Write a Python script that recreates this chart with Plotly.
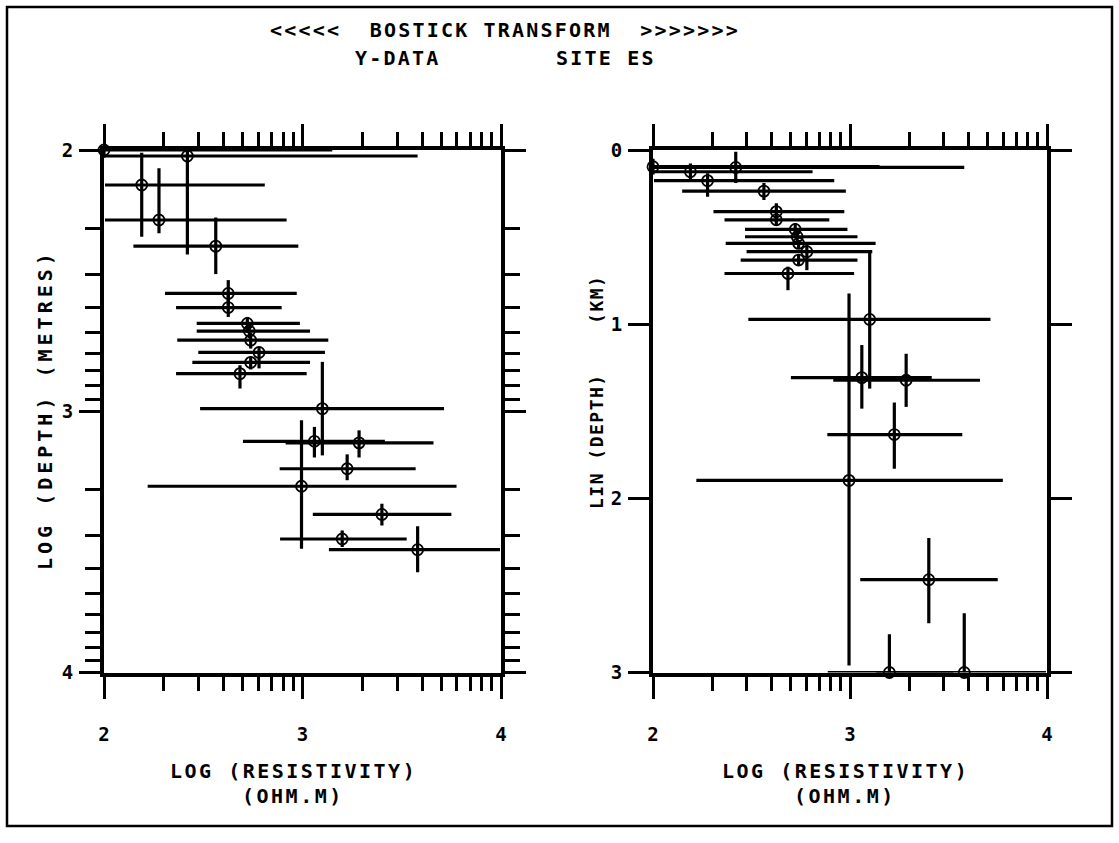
import plotly.graph_objects as go
import numpy as np

# ---------------- data ----------------
# log10 resistivity (ohm.m) of each Bostick point
log_res = [2.00, 2.19, 2.42, 2.277, 2.563, 2.626, 2.626, 2.722, 2.732, 2.739, 2.781,
           2.739, 2.685, 3.10, 3.06, 3.285, 3.225, 2.995, 3.40, 3.20, 3.58]
# horizontal (resistivity) error-bar extents, log10
log_res_lo = [2.00, 2.005, 2.00, 2.005, 2.148, 2.307, 2.363, 2.467, 2.467, 2.369, 2.475,
              2.445, 2.363, 2.484, 2.70, 2.915, 2.885, 2.22, 3.052, 2.887, 3.133]
log_res_hi = [3.15, 2.81, 3.58, 2.92, 2.979, 2.971, 2.895, 2.987, 3.038, 3.13, 3.113,
              3.038, 3.021, 3.713, 3.415, 3.66, 3.57, 3.776, 3.75, 3.525, 3.995]
# left panel: log10 depth (m) and its vertical error-bar extents
log_depth = [2.00, 2.134, 2.023, 2.268, 2.368, 2.549, 2.603, 2.664, 2.693, 2.728, 2.775,
             2.813, 2.856, 2.99, 3.115, 3.121, 3.22, 3.287, 3.395, 3.489, 3.53]
log_depth_lo = [1.97, 2.011, 2.00, 2.07, 2.258, 2.498, 2.556, 2.639, 2.67, 2.70, 2.754,
                2.79, 2.824, 2.811, 3.06, 3.073, 3.165, 3.034, 3.354, 3.456, 3.44]
log_depth_hi = [2.03, 2.332, 2.40, 2.319, 2.475, 2.594, 2.639, 2.70, 2.72, 2.76, 2.836,
                2.84, 2.913, 3.169, 3.177, 3.177, 3.264, 3.526, 3.437, 3.52, 3.616]
# right panel: linear depth (km) as drawn, and vertical error-bar extents
lin_depth = [0.096, 0.125, 0.10, 0.176, 0.236, 0.354, 0.401, 0.456, 0.498, 0.536, 0.584,
             0.632, 0.709, 0.973, 1.307, 1.322, 1.634, 1.897, 2.467, 3.00, 3.00]
lin_depth_lo = [0.05, 0.077, 0.01, 0.134, 0.19, 0.306, 0.374, 0.421, 0.469, 0.517, 0.546,
                0.603, 0.67, 0.575, 1.12, 1.17, 1.45, 0.824, 2.228, 2.78, 2.66]
lin_depth_hi = [0.14, 0.182, 0.19, 0.268, 0.287, 0.412, 0.431, 0.489, 0.527, 0.565, 0.69,
                0.661, 0.805, 1.37, 1.485, 1.475, 1.83, 2.96, 2.717, 3.00, 3.00]

x_major = [2, 3, 4]
x_labels = ["2", "3", "4"]
logdepth_major = [2, 3, 4]
lindepth_major = [0, 1, 2, 3]

NB = "\u00a0"
title_1 = "<<<<<" + NB * 2 + "BOSTICK" + NB + "TRANSFORM" + NB * 2 + ">>>>>>>"
title_2a = "Y-DATA"
title_2b = "SITE" + NB + "ES"
x_title_1 = "LOG" + NB + "(RESISTIVITY)"
x_title_2 = "(OHM.M)"
y_title_left = "LOG" + NB + "(DEPTH)" + NB + "(METRES)"
y_title_right = "LIN" + NB + "(DEPTH)" + NB * 4 + "(KM)"

# ---------------- helpers ----------------
W, H = 1119, 843
FONT = "DejaVu Sans Mono"


def px(x):
    return x / W


def py(y):
    return 1 - y / H


def minor_log(lo, hi):
    vals = []
    for dec in range(lo, hi):
        for k in range(2, 10):
            vals.append(dec + np.log10(k))
    return vals


lr = np.array(log_res)
err_x_plus = list(np.array(log_res_hi) - lr)
err_x_minus = list(lr - np.array(log_res_lo))
ld = np.array(log_depth)
err_ld_plus = list(np.array(log_depth_hi) - ld)
err_ld_minus = list(ld - np.array(log_depth_lo))
km = np.array(lin_depth)
err_km_plus = list(np.array(lin_depth_hi) - km)
err_km_minus = list(km - np.array(lin_depth_lo))

fig = go.Figure()

bar_style = dict(type="data", symmetric=False, color="black", thickness=3.2, width=0)

for xa, ya, yv, ep, em in [("x", "y", log_depth, err_ld_plus, err_ld_minus),
                           ("x2", "y2", lin_depth, err_km_plus, err_km_minus)]:
    fig.add_trace(go.Scatter(
        x=log_res, y=yv, xaxis=xa, yaxis=ya, mode="markers",
        marker=dict(size=1, color="rgba(0,0,0,0)"),
        error_x=dict(array=err_x_plus, arrayminus=err_x_minus, **bar_style),
        error_y=dict(array=ep, arrayminus=em, **bar_style),
        showlegend=False, hoverinfo="skip", cliponaxis=True))
    fig.add_trace(go.Scatter(
        x=log_res, y=yv, xaxis=xa, yaxis=ya, mode="markers",
        marker=dict(symbol="circle-open", size=11, color="black", line=dict(width=1.8)),
        showlegend=False, cliponaxis=False))

tickfont = dict(family=FONT, size=19, color="black", weight="bold")
common = dict(showgrid=False, zeroline=False, showline=True, linecolor="black", linewidth=4,
              ticks="outside", tickcolor="black", tickwidth=3, mirror="ticks",
              tickfont=tickfont, automargin=False)

x_dom_left = [px(104), px(501)]
x_dom_right = [px(653), px(1047)]
y_dom = [py(672.5), py(150)]

xax = dict(range=[2, 4], tickmode="array", tickvals=x_major, ticktext=x_labels, ticklen=22,
           ticklabelstandoff=20,
           minor=dict(tickmode="array", tickvals=minor_log(2, 4), ticklen=14, tickwidth=2.5,
                      ticks="outside", tickcolor="black"),
           **common)

fig.update_layout(
    width=W, height=H, margin=dict(l=0, r=0, t=0, b=0, autoexpand=False),
    paper_bgcolor="white", plot_bgcolor="white",
    xaxis=dict(domain=x_dom_left, anchor="y", **xax),
    yaxis=dict(domain=y_dom, anchor="x", range=[4, 2], tickmode="array", tickvals=logdepth_major,
               ticktext=[str(v) for v in logdepth_major], ticklen=21, ticklabelstandoff=2,
               minor=dict(tickmode="array", tickvals=minor_log(2, 4), ticklen=15, tickwidth=2.5,
                          ticks="outside", tickcolor="black"),
               **common),
    xaxis2=dict(domain=x_dom_right, anchor="y2", **xax),
    yaxis2=dict(domain=y_dom, anchor="x2", range=[3, 0], tickmode="array", tickvals=lindepth_major,
                ticktext=[str(v) for v in lindepth_major], ticklen=21, ticklabelstandoff=2,
                **common),
)


def ann(text, x, y, size, spacing, angle=0):
    fig.add_annotation(
        text=f"<span style='letter-spacing:{spacing}px'>{text}</span>",
        x=px(x), y=py(y), xref="paper", yref="paper", showarrow=False,
        xanchor="center", yanchor="middle", textangle=angle,
        font=dict(family=FONT, size=size, color="black", weight="bold"))


ann(title_1, 505, 30, 20, 2.2)
ann(title_2a, 397, 58, 20, 2.2)
ann(title_2b, 606, 58, 20, 2.2)
for cx in (293, 845):
    ann(x_title_1, cx, 771, 20, 2.5)
    ann(x_title_2, cx, 796, 20, 2.5)
ann(y_title_left, 45, 410, 20, 4.0, angle=-90)
ann(y_title_right, 596, 392, 18, 1.5, angle=-90)

fig.add_shape(type="rect", xref="paper", yref="paper", x0=px(7), y0=py(826), x1=px(1112), y1=py(7),
              line=dict(color="black", width=2.5))

fig.write_html("out.html", config={"displayModeBar": False},
               post_script="document.body.style.margin='0';document.body.style.overflow='hidden';")
